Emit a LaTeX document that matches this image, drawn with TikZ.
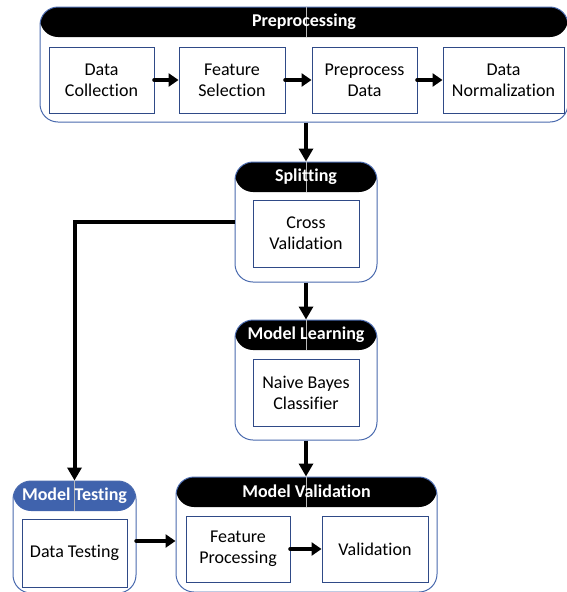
\documentclass[tikz,border=0pt]{standalone}
\usepackage{fontspec}
\setmainfont{Carlito}[Ligatures=NoCommon]
\usepackage{tikz}
\usetikzlibrary{arrows.meta,positioning}
\definecolor{frameblue}{HTML}{4A6AAE}
\definecolor{boxblue}{HTML}{2F4A87}
\definecolor{headblue}{HTML}{4063AD}
\tikzset{stage/.style={draw=frameblue, line width=1pt, rounded corners=18pt, inner sep=0pt,
    path picture={\fill[#1] (path picture bounding box.north west) rectangle ([yshift=-30pt]path picture bounding box.north east);}},
  stage/.default=black}
\tikzstyle{task}=[draw=boxblue, line width=0.9pt, fill=white, align=center, inner sep=0pt,
  font=\fontsize{18}{21}\selectfont]
\tikzstyle{head}=[text=white, font=\bfseries\fontsize{18}{21}\selectfont]
\tikzstyle{divider}=[draw=gray!55, line width=0.6pt]
\tikzstyle{flow}=[line width=4.5pt, line cap=round, -{Triangle[length=10pt,width=13pt]}]
\tikzstyle{flowdown}=[line width=4pt, -{Triangle[length=13pt,width=14pt]}]

\begin{document}
\begin{tikzpicture}[x=1pt,y=-1pt]
\useasboundingbox (0,0) rectangle (567,592);

% Preprocessing
\node[stage, minimum width=528pt, minimum height=115pt] (prep) at (304,64.5) {};
\node[task, minimum width=105pt, minimum height=66pt] (dc) at (101.5,80) {Data\\Collection};
\node[task, minimum width=106pt, minimum height=66pt] (fs) at (232,80) {Feature\\Selection};
\node[task, minimum width=105pt, minimum height=66pt] (pd) at (364.5,80) {Preprocess\\Data};
\node[task, minimum width=121pt, minimum height=66pt] (dn) at (503.5,80) {Data\\Normalization};
\draw[flow] (dc) -- (fs);
\draw[flow] (fs) -- (pd);
\draw[flow] (pd) -- (dn);

% Splitting
\node[stage, minimum width=142pt, minimum height=120pt] (split) at (306,222) {};
\node[task, minimum width=106pt, minimum height=67pt] (cv) at (306,233.5) {Cross\\Validation};

% Model Learning
\node[stage, minimum width=142pt, minimum height=120pt] (learn) at (306,380) {};
\node[task, minimum width=106pt, minimum height=67pt] (nb) at (306,392.5) {Naive Bayes\\Classifier};

% Model Testing
\node[stage=headblue, minimum width=123pt, minimum height=112pt] (test) at (74.5,537) {};
\node[task, minimum width=105pt, minimum height=68pt] (dt) at (74.5,553) {Data Testing};

% Model Validation
\node[stage, minimum width=261pt, minimum height=115pt] (valid) at (306.5,534.5) {};
\node[task, minimum width=104pt, minimum height=66pt] (fp) at (238,549) {Feature\\Processing};
\node[task, minimum width=106pt, minimum height=66pt] (va) at (375,549) {Validation};
\draw[flow] (fp) -- (va);

% dividers
\draw[divider] (split.north |- prep.north) -- ++(0,30);
\draw[divider] (split.north) -- ++(0,30);
\draw[divider] (learn.north) -- ++(0,30);
\draw[divider] (test.north) -- ++(0,30);
\draw[divider] (valid.north) -- ++(0,30);

% titles
\node[head] (prepH) at ([yshift=-15pt]prep.north) {Preprocessing};
\node[head] (splitH) at ([yshift=-15pt]split.north) {Splitting};
\node[head] (learnH) at ([yshift=-15pt]learn.north) {Model Learning};
\node[head] (testH) at ([yshift=-15pt]test.north) {Model Testing};
\node[head] (validH) at ([yshift=-15pt]valid.north) {Model Validation};

% links
\draw[flowdown] (split.north |- prep.south) -- (split.north);
\draw[flowdown] (split) -- (learn);
\draw[flowdown] (learn.south) -- (learn.south |- valid.north);
\draw[flowdown] (split.west) -| (test.north);
\draw[flow] ([yshift=-4pt]test.east) -- ([yshift=-4pt]test.east -| valid.west);

\end{tikzpicture}
\end{document}
